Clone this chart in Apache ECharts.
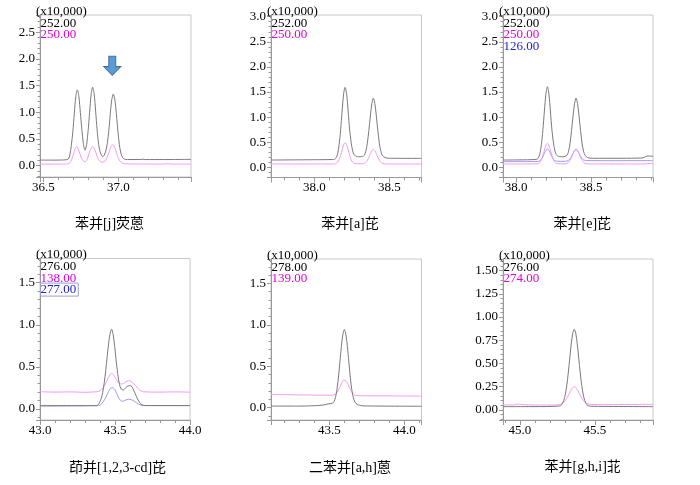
<!DOCTYPE html>
<html>
<head>
<meta charset="utf-8">
<script src="https://cdn.jsdelivr.net/npm/echarts@6/dist/echarts.min.js"></script>
<style>
  html, body { margin: 0; background: #fff; }
  #main { width: 700px; height: 485px; }
</style>
</head>
<body>
<div id="main"></div>
<script>
// ---- data ----
const titles = ["苯并[j]荧蒽", "苯并[a]芘", "苯并[e]芘", "茚并[1,2,3-cd]芘", "二苯并[a,h]蒽", "苯并[g,h,i]苝"];
const ionLabels = [
  ["252.00", "250.00"],
  ["252.00", "250.00"],
  ["252.00", "250.00", "126.00"],
  ["276.00", "138.00", "277.00"],
  ["278.00", "139.00"],
  ["276.00", "274.00"]
];
const scaleLabel = "(x10,000)";

// axis extents (retention time in min, intensity x10,000)
const xMin = [36.478, 37.711, 37.913, 43.0, 43.111, 44.887];
const xMax = [37.485, 38.714, 38.913, 44.0, 44.114, 45.887];
const yMin = [-0.212, -0.203, -0.203, -0.131, -0.148, -0.108];
const yMax = [2.822, 3.034, 3.034, 1.787, 1.794, 1.625];
const yStep = [0.5, 0.5, 0.5, 0.5, 0.5, 0.25];
const xStep = 0.5;

// arrow over the third peak of panel 1
const arrowAt = [36.96, 1.87];

// traces: [retention time, intensity]
const p1_252 = [[36.478,0.105],[36.55,0.104],[36.62,0.106],[36.65,0.11],[36.667,0.125],[36.677,0.2],[36.687,0.38],[36.697,0.64],[36.707,0.98],[36.717,1.3],[36.727,1.42],[36.737,1.3],[36.747,1.0],[36.757,0.68],[36.767,0.42],[36.778,0.29],[36.789,0.4],[36.799,0.66],[36.809,1.0],[36.819,1.33],[36.829,1.47],[36.839,1.35],[36.849,1.02],[36.859,0.67],[36.869,0.4],[36.879,0.26],[36.889,0.19],[36.898,0.17],[36.907,0.2],[36.917,0.28],[36.927,0.42],[36.937,0.66],[36.947,0.98],[36.957,1.24],[36.967,1.34],[36.977,1.24],[36.987,0.98],[36.997,0.66],[37.007,0.4],[37.017,0.24],[37.027,0.16],[37.04,0.125],[37.06,0.115],[37.15,0.115],[37.165,0.122],[37.18,0.115],[37.3,0.115],[37.485,0.118]];
const p1_250 = [[36.478,0.03],[36.65,0.03],[36.675,0.05],[36.69,0.12],[36.702,0.22],[36.712,0.31],[36.722,0.355],[36.732,0.32],[36.744,0.22],[36.756,0.13],[36.768,0.085],[36.778,0.075],[36.79,0.11],[36.8,0.18],[36.81,0.27],[36.82,0.33],[36.829,0.355],[36.839,0.33],[36.85,0.25],[36.862,0.15],[36.875,0.09],[36.89,0.065],[36.905,0.07],[36.918,0.11],[36.93,0.19],[36.942,0.29],[36.952,0.36],[36.962,0.39],[36.972,0.37],[36.984,0.28],[36.996,0.17],[37.01,0.09],[37.025,0.05],[37.045,0.035],[37.3,0.03],[37.33,0.036],[37.36,0.03],[37.485,0.03]];

const p2_252 = [[37.711,0.145],[37.85,0.148],[37.95,0.15],[38.05,0.152],[38.12,0.155],[38.135,0.16],[38.145,0.19],[38.155,0.27],[38.165,0.45],[38.175,0.75],[38.185,1.12],[38.195,1.46],[38.205,1.594],[38.215,1.46],[38.225,1.12],[38.235,0.75],[38.245,0.5],[38.255,0.33],[38.268,0.24],[38.294,0.21],[38.32,0.215],[38.333,0.24],[38.343,0.32],[38.353,0.48],[38.363,0.73],[38.373,1.02],[38.383,1.27],[38.393,1.374],[38.403,1.27],[38.413,1.02],[38.423,0.73],[38.433,0.48],[38.443,0.32],[38.453,0.24],[38.47,0.195],[38.5,0.18],[38.714,0.178]];
const p2_250 = [[37.711,0.066],[38.135,0.066],[38.145,0.078],[38.155,0.1],[38.165,0.153],[38.175,0.24],[38.185,0.35],[38.195,0.45],[38.205,0.49],[38.215,0.45],[38.225,0.35],[38.235,0.24],[38.245,0.153],[38.255,0.1],[38.265,0.078],[38.29,0.07],[38.32,0.07],[38.333,0.079],[38.343,0.1],[38.353,0.14],[38.363,0.2],[38.373,0.27],[38.383,0.33],[38.393,0.36],[38.403,0.33],[38.413,0.27],[38.423,0.2],[38.433,0.14],[38.443,0.1],[38.453,0.079],[38.48,0.067],[38.714,0.066]];

const p3_252 = [[37.913,0.145],[38.0,0.147],[38.1,0.152],[38.139,0.16],[38.149,0.19],[38.159,0.27],[38.169,0.45],[38.179,0.75],[38.189,1.12],[38.199,1.46],[38.209,1.607],[38.219,1.46],[38.229,1.12],[38.239,0.75],[38.249,0.5],[38.259,0.33],[38.272,0.24],[38.298,0.21],[38.325,0.215],[38.34,0.24],[38.35,0.32],[38.36,0.48],[38.37,0.73],[38.38,1.02],[38.39,1.27],[38.4,1.375],[38.41,1.27],[38.42,1.02],[38.43,0.73],[38.44,0.48],[38.45,0.32],[38.46,0.24],[38.477,0.195],[38.51,0.18],[38.7,0.18],[38.84,0.185],[38.865,0.215],[38.88,0.225],[38.913,0.22]];
const p3_250 = [[37.913,0.066],[38.14,0.068],[38.149,0.078],[38.159,0.1],[38.169,0.153],[38.179,0.24],[38.189,0.34],[38.199,0.44],[38.209,0.478],[38.219,0.44],[38.229,0.34],[38.239,0.24],[38.249,0.153],[38.259,0.1],[38.269,0.078],[38.3,0.07],[38.33,0.07],[38.34,0.079],[38.35,0.1],[38.36,0.14],[38.37,0.2],[38.38,0.27],[38.39,0.335],[38.4,0.365],[38.41,0.335],[38.42,0.27],[38.43,0.2],[38.44,0.14],[38.45,0.1],[38.46,0.079],[38.49,0.067],[38.86,0.066],[38.88,0.075],[38.913,0.075]];
const p3_126 = [[37.913,0.113],[38.14,0.115],[38.159,0.13],[38.169,0.16],[38.179,0.21],[38.189,0.28],[38.199,0.34],[38.209,0.365],[38.219,0.34],[38.229,0.28],[38.239,0.21],[38.249,0.16],[38.259,0.135],[38.28,0.12],[38.33,0.12],[38.35,0.14],[38.36,0.17],[38.37,0.22],[38.38,0.28],[38.39,0.33],[38.4,0.345],[38.41,0.33],[38.42,0.28],[38.43,0.22],[38.44,0.18],[38.45,0.15],[38.47,0.135],[38.6,0.132],[38.913,0.133]];

const p4_276 = [[43.0,0.04],[43.38,0.04],[43.39,0.055],[43.398,0.08],[43.408,0.123],[43.418,0.196],[43.428,0.307],[43.438,0.454],[43.448,0.624],[43.458,0.786],[43.468,0.9],[43.478,0.946],[43.488,0.88],[43.498,0.74],[43.508,0.57],[43.518,0.42],[43.53,0.29],[43.542,0.235],[43.556,0.226],[43.57,0.25],[43.585,0.272],[43.604,0.277],[43.62,0.24],[43.635,0.18],[43.65,0.12],[43.665,0.075],[43.68,0.05],[43.7,0.04],[44.0,0.04]];
const p4_138 = [[43.0,0.205],[43.1,0.2],[43.2,0.203],[43.3,0.198],[43.38,0.205],[43.4,0.215],[43.42,0.25],[43.44,0.31],[43.455,0.37],[43.468,0.41],[43.478,0.42],[43.49,0.405],[43.505,0.36],[43.52,0.32],[43.535,0.3],[43.55,0.297],[43.57,0.32],[43.59,0.336],[43.605,0.33],[43.625,0.3],[43.645,0.26],[43.665,0.225],[43.69,0.205],[43.8,0.2],[43.9,0.203],[44.0,0.2]];
const p4_277 = [[43.0,0.035],[43.39,0.04],[43.41,0.06],[43.43,0.11],[43.45,0.18],[43.465,0.235],[43.484,0.253],[43.5,0.225],[43.515,0.17],[43.53,0.115],[43.55,0.09],[43.57,0.105],[43.59,0.115],[43.61,0.11],[43.63,0.09],[43.655,0.06],[43.68,0.042],[44.0,0.04]];

const p5_278 = [[43.111,0.02],[43.3,0.02],[43.45,0.03],[43.49,0.045],[43.51,0.05],[43.52,0.055],[43.53,0.07],[43.54,0.12],[43.55,0.21],[43.56,0.36],[43.57,0.55],[43.58,0.74],[43.59,0.885],[43.6,0.943],[43.61,0.885],[43.62,0.74],[43.63,0.55],[43.64,0.36],[43.65,0.21],[43.66,0.12],[43.67,0.07],[43.685,0.04],[43.7,0.03],[43.73,0.022],[44.114,0.018]];
const p5_139 = [[43.111,0.16],[43.2,0.158],[43.3,0.155],[43.4,0.152],[43.5,0.15],[43.53,0.155],[43.55,0.18],[43.565,0.23],[43.58,0.29],[43.59,0.325],[43.6,0.334],[43.61,0.325],[43.625,0.28],[43.64,0.22],[43.655,0.175],[43.67,0.152],[43.7,0.145],[43.9,0.143],[44.114,0.14]];

const p6_276 = [[44.887,0.036],[45.1,0.036],[45.25,0.04],[45.272,0.048],[45.282,0.066],[45.292,0.101],[45.302,0.164],[45.312,0.262],[45.322,0.398],[45.332,0.557],[45.342,0.712],[45.352,0.826],[45.362,0.868],[45.372,0.826],[45.382,0.712],[45.392,0.557],[45.402,0.398],[45.412,0.262],[45.422,0.164],[45.432,0.101],[45.442,0.066],[45.452,0.048],[45.47,0.04],[45.887,0.036]];
const p6_274 = [[44.887,0.054],[44.96,0.055],[44.99,0.064],[45.02,0.056],[45.1,0.053],[45.2,0.053],[45.26,0.058],[45.29,0.08],[45.31,0.12],[45.33,0.18],[45.345,0.23],[45.362,0.251],[45.378,0.23],[45.395,0.18],[45.415,0.12],[45.435,0.08],[45.46,0.062],[45.5,0.058],[45.887,0.06]];

// per panel: traces drawn back to front, with the ion each belongs to
const traces = [
  [["250.00", p1_250], ["252.00", p1_252]],
  [["250.00", p2_250], ["252.00", p2_252]],
  [["250.00", p3_250], ["126.00", p3_126], ["252.00", p3_252]],
  [["138.00", p4_138], ["277.00", p4_277], ["276.00", p4_276]],
  [["139.00", p5_139], ["278.00", p5_278]],
  [["274.00", p6_274], ["276.00", p6_276]]
];

// ---- layout / style ----
const boxes = [
  { left: 40, top: 15, width: 151, height: 162 },
  { left: 271, top: 15, width: 150.5, height: 162.5 },
  { left: 503, top: 15, width: 150, height: 162.5 },
  { left: 40, top: 258.5, width: 150, height: 161.5 },
  { left: 271, top: 259, width: 150.5, height: 161 },
  { left: 503, top: 259, width: 150, height: 161 }
];
const titlePos = [[109.5, 224.5], [350, 224.5], [582.3, 224.5], [117.5, 468], [350, 468], [582.7, 467]];
const lineColors = ["#7a7a7a", "#f59af5", "#9a9af2"];   // black, pink, blue traces
const textColors = ["#000000", "#e000e0", "#2020e0"];
const numFont = "Liberation Serif";
const numSize = 13;
const axisGray = "#999";

function stepFormatter(step, dec) {
  return function (v) {
    const k = v / step;
    return Math.abs(k - Math.round(k)) < 1e-6 ? v.toFixed(dec) : "";
  };
}

const arrowPath = "path://M5,0 L12,0 L12,10 L17,10 L8.5,18.5 L0,10 L5,10 Z";

const grid = [], xAxis = [], yAxis = [], series = [], graphic = [];

boxes.forEach(function (b, i) {
  grid.push({
    left: b.left, top: b.top, width: b.width, height: b.height,
    show: true, borderColor: "#c8c8c8", borderWidth: 1, containLabel: false
  });
  xAxis.push({
    gridIndex: i, type: "value", min: xMin[i], max: xMax[i],
    minInterval: xStep, maxInterval: xStep, splitNumber: 2,
    axisLine: { onZero: false, lineStyle: { color: axisGray } },
    axisTick: { length: 5, lineStyle: { color: axisGray } },
    minorTick: { show: true, splitNumber: 5, length: 3, lineStyle: { color: axisGray } },
    splitLine: { show: false },
    axisLabel: { formatter: stepFormatter(xStep, 1), fontFamily: numFont, fontSize: numSize, color: "#000", margin: 4 }
  });
  const ys = yStep[i];
  yAxis.push({
    gridIndex: i, type: "value", min: yMin[i], max: yMax[i],
    minInterval: ys, maxInterval: ys, splitNumber: Math.round((yMax[i] - yMin[i]) / ys),
    axisLine: { onZero: false, lineStyle: { color: axisGray } },
    axisTick: { length: 4, lineStyle: { color: axisGray } },
    minorTick: { show: true, splitNumber: 5, length: 2.5, lineStyle: { color: axisGray } },
    splitLine: { show: false },
    axisLabel: { formatter: stepFormatter(ys, ys < 0.5 ? 2 : 1), fontFamily: numFont, fontSize: numSize, color: "#000", margin: 5 }
  });

  const ions = ionLabels[i];
  traces[i].forEach(function (t) {
    const k = ions.indexOf(t[0]);
    const s = {
      name: t[0], type: "line", xAxisIndex: i, yAxisIndex: i,
      data: t[1], showSymbol: false, symbol: "none", smooth: 0.3,
      lineStyle: { width: 1, color: lineColors[k] }, z: 3 - k, silent: true
    };
    if (i === 0 && k === 0) {
      s.markPoint = {
        symbol: arrowPath, symbolSize: [17, 19], silent: true,
        itemStyle: { color: "#5b9bd5", borderColor: "#41719c", borderWidth: 1 },
        label: { show: false },
        data: [{ coord: arrowAt }]
      };
    }
    series.push(s);
  });

  // scale header and ion labels
  const font = numSize + "px '" + numFont + "'";
  graphic.push({
    type: "text", x: b.left - 4, y: b.top - 3.5, z: 10,
    style: { text: scaleLabel, fill: "#000", font: font, verticalAlign: "middle" }
  });
  ions.forEach(function (lab, k) {
    const st = { text: lab, fill: textColors[k], font: font, verticalAlign: "middle" };
    if (i === 3 && k === 2) {
      st.borderColor = "#9aa0c8"; st.borderWidth = 1; st.padding = [0, 2, 0, 0];
    }
    graphic.push({ type: "text", x: b.left + 0.5, y: b.top + 8.5 + 11.3 * k, z: 10, style: st });
  });

  graphic.push({
    type: "text", x: titlePos[i][0], y: titlePos[i][1],
    style: {
      text: titles[i], fill: "#000", align: "center", verticalAlign: "middle",
      font: "14px 'Liberation Serif', 'Noto Sans CJK SC'"
    }
  });
});

const chart = echarts.init(document.getElementById("main"), null, { renderer: "canvas" });
chart.setOption({
  animation: false,
  backgroundColor: "#fff",
  grid: grid,
  xAxis: xAxis,
  yAxis: yAxis,
  series: series,
  graphic: graphic
});
</script>
</body>
</html>
